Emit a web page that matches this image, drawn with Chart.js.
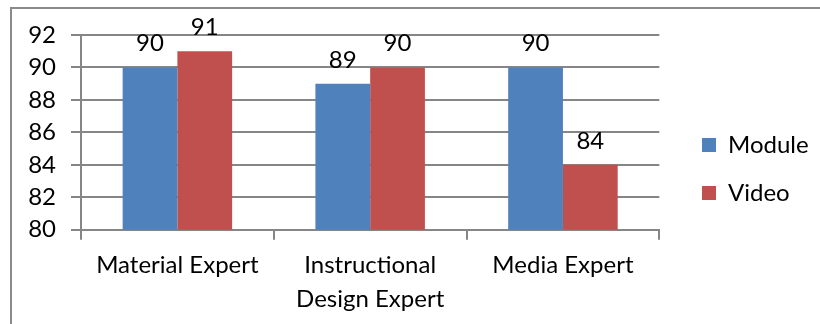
<!DOCTYPE html>
<html lang="en">
<head>
  <meta charset="UTF-8">
  <title>Expert Validation</title>
  <script src="https://cdn.jsdelivr.net/npm/chart.js"></script>
  <style>
    body {
      margin: 0;
      width: 820px;
      height: 324px;
      overflow: hidden;
      position: relative;
      background: #fff;
    }
    .frame {
      position: absolute;
      left: 10px;
      top: 7px;
      width: 1000px;
      height: 1000px;
      border: 2px solid #8a8a8a;
    }
    canvas {
      position: absolute;
      left: 0;
      top: 0;
    }
  </style>
</head>
<body>
  <div class="frame"></div>
  <canvas id="scoreChart" width="820" height="324"></canvas>

  <script>
    const categories = ['Material Expert', ['Instructional', 'Design Expert'], 'Media Expert'];
    const moduleScores = [90, 89, 90];
    const videoScores = [91, 90, 84];
    const yTicks = [80, 82, 84, 86, 88, 90, 92];

    const FONT = 'Lato, "Open Sans", sans-serif';
    const SIZE = 24;
    const GRID = '#868686';

    // value labels above each bar
    const barValues = {
      id: 'barValues',
      afterDatasetsDraw(chart) {
        const ctx = chart.ctx;
        ctx.save();
        ctx.font = SIZE + 'px ' + FONT;
        ctx.fillStyle = '#000';
        ctx.textAlign = 'center';
        ctx.textBaseline = 'alphabetic';
        chart.data.datasets.forEach((ds, i) => {
          chart.getDatasetMeta(i).data.forEach((bar, j) => {
            ctx.fillText(ds.data[j], bar.x, bar.y - 16);
          });
        });
        ctx.restore();
      }
    };

    // put the legend column where it belongs
    const legendPlace = {
      id: 'legendPlace',
      afterLayout(chart) {
        const lg = chart.legend;
        const pad = lg.options.labels.padding;
        const dx = 702 - pad - lg.left;
        lg.left += dx;
        lg.right += dx;
        const dy = 133 - pad - lg.top;
        lg.top += dy;
        lg.bottom += dy;
      }
    };

    new Chart(document.getElementById('scoreChart'), {
      type: 'bar',
      data: {
        labels: categories,
        datasets: [
          {
            label: 'Module',
            data: moduleScores,
            backgroundColor: '#4f81bd',
            categoryPercentage: 0.568,
            barPercentage: 1
          },
          {
            label: 'Video',
            data: videoScores,
            backgroundColor: '#c0504d',
            categoryPercentage: 0.568,
            barPercentage: 1
          }
        ]
      },
      options: {
        responsive: false,
        animation: false,
        layout: {
          padding: { top: 35, right: 20, bottom: 0, left: 0 }
        },
        plugins: {
          legend: {
            position: 'right',
            align: 'start',
            labels: {
              boxWidth: 14,
              boxHeight: 14,
              padding: 24,
              color: '#000',
              font: { family: FONT, size: SIZE }
            }
          },
          tooltip: { enabled: false }
        },
        scales: {
          x: {
            afterFit(scale) { scale.height = 94.3; },
            grid: {
              offset: true,
              drawOnChartArea: false,
              drawTicks: true,
              tickLength: 10,
              color: GRID,
              lineWidth: 2
            },
            border: { display: true, color: GRID, width: 2 },
            ticks: {
              color: '#000',
              padding: 9,
              maxRotation: 0,
              font: { family: FONT, size: SIZE, lineHeight: 1.4 }
            }
          },
          y: {
            min: 80,
            max: 92,
            afterFit(scale) { scale.width = 81; },
            afterBuildTicks(scale) {
              scale.ticks = yTicks.map(v => ({ value: v }));
            },
            grid: {
              color: GRID,
              lineWidth: 2,
              tickLength: 10
            },
            border: { display: true, color: GRID, width: 2 },
            ticks: {
              color: '#000',
              padding: 15,
              font: { family: FONT, size: SIZE }
            }
          }
        }
      },
      plugins: [barValues, legendPlace]
    });
  </script>
</body>
</html>
